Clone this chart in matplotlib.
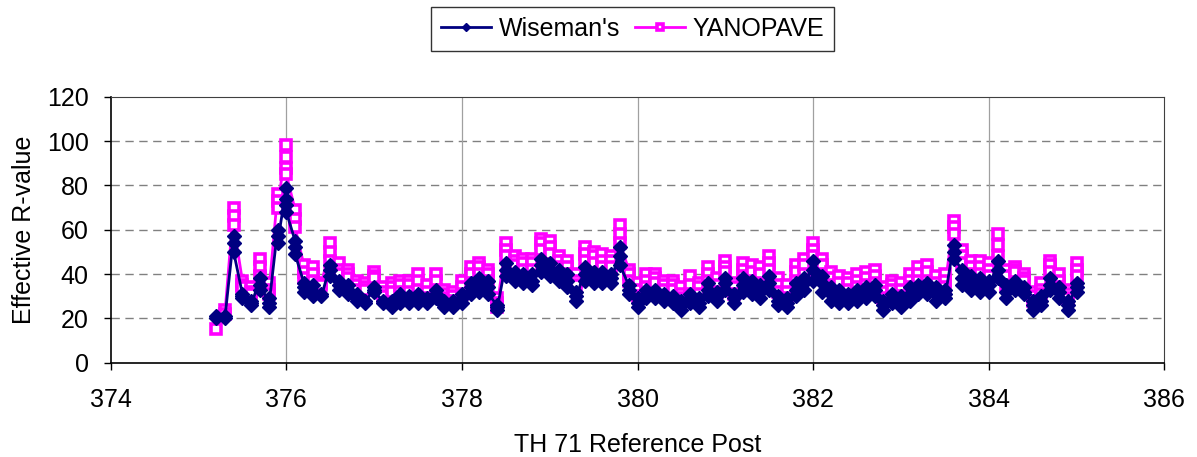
import matplotlib
matplotlib.use("Agg")
import matplotlib.pyplot as plt

plt.rcParams['font.family'] = ['Liberation Sans', 'DejaVu Sans']

# reference posts (stations) along TH 71
posts = [375.2, 375.3, 375.4, 375.5, 375.6, 375.7, 375.8, 375.9, 376.0, 376.1,
         376.2, 376.3, 376.4, 376.5, 376.6, 376.7, 376.8, 376.9, 377.0, 377.1,
         377.2, 377.3, 377.4, 377.5, 377.6, 377.7, 377.8, 377.9, 378.0, 378.1,
         378.2, 378.3, 378.4, 378.5, 378.6, 378.7, 378.8, 378.9, 379.0, 379.1,
         379.2, 379.3, 379.4, 379.5, 379.6, 379.7, 379.8, 379.9, 380.0, 380.1,
         380.2, 380.3, 380.4, 380.5, 380.6, 380.7, 380.8, 380.9, 381.0, 381.1,
         381.2, 381.3, 381.4, 381.5, 381.6, 381.7, 381.8, 381.9, 382.0, 382.1,
         382.2, 382.3, 382.4, 382.5, 382.6, 382.7, 382.8, 382.9, 383.0, 383.1,
         383.2, 383.3, 383.4, 383.5, 383.6, 383.7, 383.8, 383.9, 384.0, 384.1,
         384.2, 384.3, 384.4, 384.5, 384.6, 384.7, 384.8, 384.9, 385.0]

# readings at each post (several per post)
wiseman = [
    [21, 20], [21, 20], [57, 54, 50], [31, 30, 29], [28, 27, 26],
    [38, 35, 33], [29, 27, 25], [60, 57, 54], [79, 74, 71, 68], [55, 52, 49],
    [36, 34, 32], [35, 32, 30], [31, 30], [44, 42, 39], [37, 35, 33],
    [35, 33, 31], [31, 29, 28], [28, 27], [34, 33, 32], [28, 27],
    [28, 26, 25], [31, 29, 27], [30, 28, 27], [31, 29, 27], [29, 28, 27],
    [33, 31, 29], [28, 26, 25], [28, 26, 25], [31, 29, 27], [36, 34, 31],
    [38, 35, 32], [37, 34, 31], [26, 25, 24], [45, 42, 39], [41, 39, 37],
    [40, 38, 36], [40, 37, 35], [47, 44, 41], [45, 42, 39], [42, 40, 37],
    [40, 37, 34], [32, 30, 28], [43, 40, 37], [41, 39, 36], [41, 38, 36],
    [40, 38, 36], [52, 48, 44], [35, 33, 31], [29, 27, 25], [33, 31, 29],
    [33, 31, 29], [31, 30, 28], [30, 29, 27], [28, 26, 24], [31, 29, 27],
    [29, 27, 25], [36, 33, 30], [32, 30, 28], [38, 36, 33], [31, 29, 27],
    [38, 35, 32], [37, 34, 31], [35, 32, 29], [39, 36, 33], [30, 28, 26],
    [29, 27, 25], [36, 33, 30], [38, 36, 33], [46, 42, 37], [39, 36, 32],
    [34, 31, 28], [33, 30, 27], [31, 29, 27], [33, 31, 28], [34, 31, 29],
    [35, 33, 30], [28, 26, 24], [31, 29, 27], [30, 28, 25], [34, 31, 28],
    [35, 33, 31], [36, 34, 31], [34, 31, 28], [33, 31, 29], [53, 50, 47],
    [42, 38, 35], [39, 36, 33], [38, 35, 32], [37, 35, 32], [46, 42, 38],
    [35, 32, 29], [37, 35, 33], [34, 32, 31], [28, 26, 24], [30, 28, 26],
    [38, 35, 33], [34, 32, 29], [28, 26, 24], [36, 34, 32]]

yanopave = [
    [15], [24, 22], [70, 66, 62], [37, 35, 34], [34, 32, 31],
    [47, 43, 39], [36, 33, 31], [76, 73, 70], [98, 93, 88, 85], [69, 65, 61],
    [44, 41, 38], [43, 40, 37], [36, 35], [54, 50, 46], [45, 42, 40],
    [42, 40, 38], [37, 35, 33], [36, 34, 33], [41, 39, 38], [34, 32, 30],
    [36, 34, 32], [37, 35, 32], [37, 35, 32], [40, 37, 33], [35, 32, 29],
    [40, 37, 33], [33, 31, 29], [32, 30, 28], [37, 34, 31], [43, 40, 36],
    [45, 43, 40], [42, 40, 37], [29, 27, 25], [54, 51, 48], [48, 46, 44],
    [47, 45, 42], [47, 45, 42], [56, 54, 51], [55, 52, 49], [48, 46, 43],
    [46, 43, 40], [40, 37, 35], [52, 49, 46], [50, 48, 45], [49, 46, 43],
    [48, 46, 43], [62, 58, 54], [42, 40, 37], [36, 33, 30], [40, 37, 34],
    [40, 38, 36], [37, 35, 33], [37, 35, 33], [34, 31, 29], [39, 35, 31],
    [36, 34, 31], [43, 40, 37], [38, 35, 32], [46, 43, 41], [36, 34, 31],
    [45, 42, 39], [44, 41, 37], [43, 40, 36], [48, 45, 42], [38, 35, 32],
    [35, 32, 29], [44, 41, 37], [47, 44, 40], [54, 51, 48], [47, 44, 40],
    [41, 38, 35], [39, 36, 32], [38, 36, 33], [40, 37, 34], [41, 38, 35],
    [42, 39, 36], [34, 32, 29], [37, 35, 33], [36, 33, 30], [40, 37, 34],
    [43, 40, 37], [44, 41, 37], [39, 36, 33], [40, 37, 34], [64, 61, 58],
    [51, 48, 45], [46, 43, 40], [46, 43, 40], [45, 42, 39], [58, 53, 48],
    [42, 39, 35], [43, 42, 41], [40, 38, 37], [32, 30, 28], [36, 33, 31],
    [46, 44, 41], [40, 37, 34], [33, 31, 29], [45, 42, 39]]


def flatten(stations, readings):
    xs, ys = [], []
    for p, vals in zip(stations, readings):
        for v in vals:
            xs.append(p)
            ys.append(v)
    return xs, ys


wx, wy = flatten(posts, wiseman)
yx, yy = flatten(posts, yanopave)

fig = plt.figure(figsize=(11.97, 4.57), dpi=100)
ax = fig.add_axes([0.0925, 0.2063, 0.8802, 0.5821])

ax.plot(yx, yy, color='#FF00FF', lw=2, marker='s', ms=7, mew=2.6,
        mfc='white', mec='#FF00FF', label='YANOPAVE', zorder=3)
ax.plot(wx, wy, color='#000080', lw=2, marker='D', ms=7.5,
        mfc='#000080', mec='#000080', label="Wiseman's", zorder=4)

ax.set_xlim(374, 386)
ax.set_ylim(0, 120)
ax.set_xticks(range(374, 387, 2))
ax.set_yticks(range(0, 121, 20))

for v in range(20, 120, 20):
    ax.axhline(v, color='#808080', lw=1, ls=(0, (6, 4)), zorder=1)
for v in range(376, 386, 2):
    ax.axvline(v, color='#a0a0a0', lw=0.9, zorder=1)

for s in ['top', 'right']:
    ax.spines[s].set_color('#404040')
for s in ['left', 'bottom']:
    ax.spines[s].set_color('black')
    ax.spines[s].set_linewidth(1.2)

ax.tick_params(direction='out', length=5, width=1, labelsize=18)
ax.tick_params(axis='x', pad=13)
ax.tick_params(axis='y', pad=11)

ax.set_xlabel('TH 71 Reference Post', fontsize=18)
ax.xaxis.set_label_coords(0.5, -0.265)
ax.set_ylabel('Effective R-value', fontsize=18)
ax.yaxis.set_label_coords(-0.071, 0.5)

h, l = ax.get_legend_handles_labels()
leg = ax.legend(h[::-1], l[::-1], loc='center', bbox_to_anchor=(0.4957, 1.256),
                ncol=2, fontsize=18, frameon=True, fancybox=False,
                edgecolor='black', handlelength=2.0, handletextpad=0.3,
                columnspacing=0.6, borderpad=0.4, markerscale=0.6)
leg.get_frame().set_linewidth(1)

fig.savefig('out.png', dpi=100)
